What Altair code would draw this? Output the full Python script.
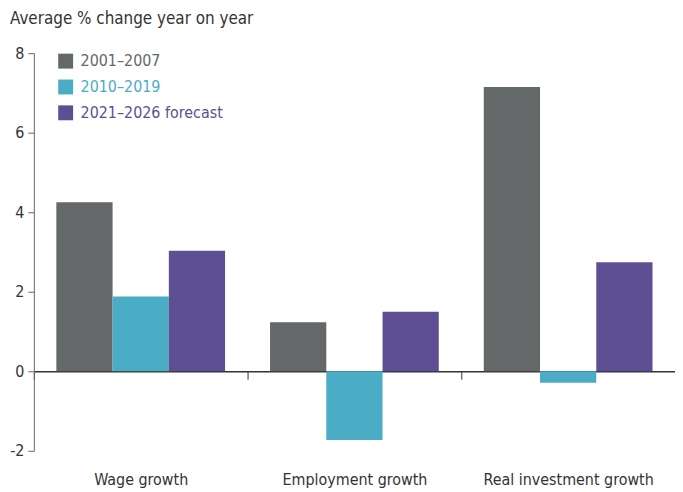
import altair as alt
import pandas as pd

categories = ["Wage growth", "Employment growth", "Real investment growth"]
series = ["2001–2007", "2010–2019", "2021–2026 forecast"]
colors = ["#646868", "#4BACC6", "#5E4F92"]
v_2001_2007 = [4.25, 1.23, 7.15]
v_2010_2019 = [1.88, -1.73, -0.29]
v_2021_2026 = [3.03, 1.50, 2.74]

rows = []
for s, vals in zip(series, [v_2001_2007, v_2010_2019, v_2021_2026]):
    for c, v in zip(categories, vals):
        rows.append({"category": c, "series": s, "value": v})
df = pd.DataFrame(rows)

FONT = "Liberation Sans Narrow, DejaVu Sans Condensed, sans-serif"
W, H = 645, 400
step = W / 3

label_expr = " : ".join(
    f"datum.label == '{s}' ? '{c}'" for s, c in zip(series[:-1], colors[:-1])
) + f" : '{colors[-1]}'"

chart = alt.Chart(df).mark_bar().encode(
    x=alt.X("category:N", sort=categories, title=None,
            scale=alt.Scale(paddingInner=0, paddingOuter=0),
            axis=alt.Axis(orient="bottom", offset=-80, labelAngle=0,
                          labelPadding=93, tickSize=8, tickOffset=-step / 2,
                          labelOffset=step / 2,
                          domainColor="#333333", domainWidth=1.3,
                          tickColor="#333333", labelColor="#333333",
                          labelFontSize=16, labelFont=FONT)),
    xOffset=alt.XOffset("series:N", sort=series,
                        scale=alt.Scale(paddingInner=0, paddingOuter=0.4)),
    y=alt.Y("value:Q", title=None,
            scale=alt.Scale(domain=[-2, 8], nice=False, zero=False),
            axis=alt.Axis(values=[-2, 0, 2, 4, 6, 8], grid=False,
                          labelExpr="'' + datum.value",
                          tickSize=6, domainColor="#666666", tickColor="#666666",
                          labelColor="#333333", labelFontSize=16, labelFont=FONT,
                          labelPadding=4)),
    color=alt.Color("series:N", sort=series,
                    scale=alt.Scale(domain=series, range=colors),
                    legend=alt.Legend(title=None, orient="none", legendX=24, legendY=0,
                                      symbolType="square", symbolSize=225,
                                      symbolStrokeWidth=0, labelFontSize=16,
                                      labelFont=FONT, labelOffset=7, rowPadding=10,
                                      labelColor=alt.ExprRef(label_expr))),
).properties(
    width=W, height=H,
    title=alt.TitleParams("Average % change year on year", anchor="start",
                          frame="group", dx=-24, offset=17, fontSize=17,
                          font=FONT, fontWeight="normal", color="#333333"),
    autosize=alt.AutoSizeParams(type="none"),
    padding={"left": 26, "top": 44, "right": 0, "bottom": 40},
).configure_view(stroke=None)

chart.save("out.html", embed_options={"renderer": "svg", "actions": False})
